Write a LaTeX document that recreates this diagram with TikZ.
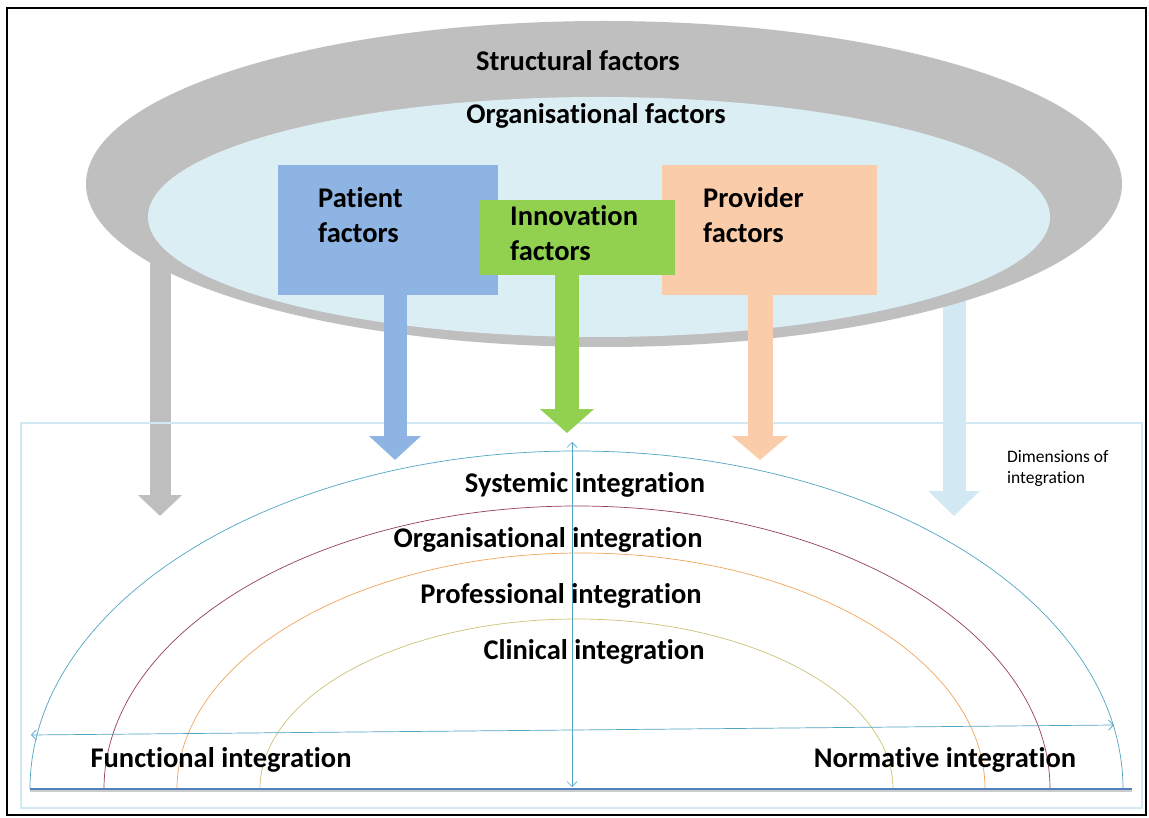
\documentclass[tikz,border=0pt]{standalone}
\usepackage{fontspec}
\setmainfont{Carlito}[Ligatures=NoCommon]
\usetikzlibrary{arrows.meta}

\definecolor{structgray}{RGB}{191,191,191}
\definecolor{orgblue}{RGB}{219,238,244}
\definecolor{patblue}{RGB}{141,180,226}
\definecolor{innogreen}{RGB}{146,208,80}
\definecolor{provpeach}{RGB}{250,204,170}
\definecolor{dimblue}{RGB}{210,232,242}
\definecolor{arcsys}{RGB}{80,165,195}
\definecolor{arcorg}{RGB}{150,60,100}
\definecolor{arcprof}{RGB}{240,165,90}
\definecolor{arcclin}{RGB}{205,195,120}
\definecolor{baseblue}{RGB}{79,129,189}

\tikzset{
	factorlabel/.style={font=\bfseries\fontsize{28.5}{35}\selectfont, align=left, anchor=north west, inner sep=0pt},
	levellabel/.style={font=\bfseries\fontsize{28.5}{34}\selectfont, anchor=base, inner sep=0pt},
	fatarrow/.style={line width=#1, -{Triangle[width=2.2*#1, length=24pt]}},
	axisarrow/.style={draw=arcsys, line width=0.7pt, {Straight Barb[length=5pt, width=10pt]}-{Straight Barb[length=5pt, width=10pt]}}
}

\begin{document}
\begin{tikzpicture}[x=1pt, y=-1pt]
	\useasboundingbox (0,0) rectangle (1149,818);
	\fill[white] (0,0) rectangle (1149,818);
	\draw[line width=1.2pt] (7,8) rectangle (1146,815);

	%side arrows, behind the ellipses
	\coordinate (structtop) at (160,240);
	\coordinate (structtip) at (160,516);
	\draw[structgray, -{Triangle[width=43pt, length=21pt]}, line width=21pt] (structtop) -- (structtip);
	\coordinate (orgtop) at (954,280);
	\coordinate (orgtip) at (954,516);
	\draw[dimblue, -{Triangle[width=50pt, length=25pt]}, line width=23pt] (orgtop) -- (orgtip);

	%factor ellipses
	\fill[structgray] (604,184) ellipse [x radius=518pt, y radius=163pt];
	\fill[orgblue] (599,217) ellipse [x radius=451pt, y radius=120pt];
	\node[font=\bfseries\fontsize{28.5}{34}\selectfont] (struct) at (578,61) {Structural factors};
	\node[font=\bfseries\fontsize{28.5}{34}\selectfont] (org) at (596,116) {Organisational factors};

	%dimension frame
	\draw[dimblue, line width=1.5pt] (21,423) rectangle (1142,808);

	%factor boxes
	\fill[patblue] (278,165) rectangle (498,295);
	\fill[provpeach] (662,165) rectangle (877,295);
	\fill[innogreen] (480,200) rectangle (675,275);
	\node[factorlabel] (pat) at (318,187) {Patient\\factors};
	\node[factorlabel] (inno) at (510,205) {Innovation\\factors};
	\node[factorlabel] (prov) at (703,187) {Provider\\factors};

	%factor arrows
	\coordinate (patfoot) at (395,295);
	\coordinate (pattip) at (395,460);
	\coordinate (innofoot) at (567,275);
	\coordinate (innotip) at (567,433);
	\coordinate (provfoot) at (760,295);
	\coordinate (provtip) at (760,460);
	\draw[patblue, fatarrow=23pt] (patfoot) -- (pattip);
	\draw[innogreen, fatarrow=24pt] (innofoot) -- (innotip);
	\draw[provpeach, fatarrow=25pt] (provfoot) -- (provtip);

	%integration arcs
	\draw[arcsys, line width=0.7pt] (30,789) arc[start angle=180, end angle=0, x radius=546.5pt, y radius=338pt];
	\draw[arcorg, line width=0.7pt] (104,789) arc[start angle=180, end angle=0, x radius=473pt, y radius=283pt];
	\draw[arcprof, line width=0.7pt] (177,789) arc[start angle=180, end angle=0, x radius=404pt, y radius=236pt];
	\draw[arcclin, line width=0.7pt] (260,789) arc[start angle=180, end angle=0, x radius=316.5pt, y radius=170pt];

	%base and axes
	\draw[black!20, line width=2.5pt] (30,790.5) -- (1132,790.5);
	\draw[baseblue, line width=2.2pt] (30,789) -- (1132,789);
	\coordinate (vtop) at (572,442);
	\coordinate (vbot) at (572,787);
	\coordinate (hleft) at (31,735);
	\coordinate (hright) at (1114,725);
	\draw[axisarrow] (vtop) -- (vbot);
	\draw[axisarrow] (hleft) -- (hright);

	%labels
	\node[levellabel] (sys) at (585,492) {Systemic integration};
	\node[levellabel] (orgint) at (548,547) {Organisational integration};
	\node[levellabel] (prof) at (561,603) {Professional integration};
	\node[levellabel] (clin) at (594,659) {Clinical integration};
	\node[levellabel] (func) at (221,767) {Functional integration};
	\node[levellabel] (norm) at (945,767) {Normative integration};
	\node[font=\fontsize{17.5}{21}\selectfont, align=left, anchor=north west, inner sep=0pt] (dims) at (1007,450) {Dimensions of\\integration};
\end{tikzpicture}
\end{document}
